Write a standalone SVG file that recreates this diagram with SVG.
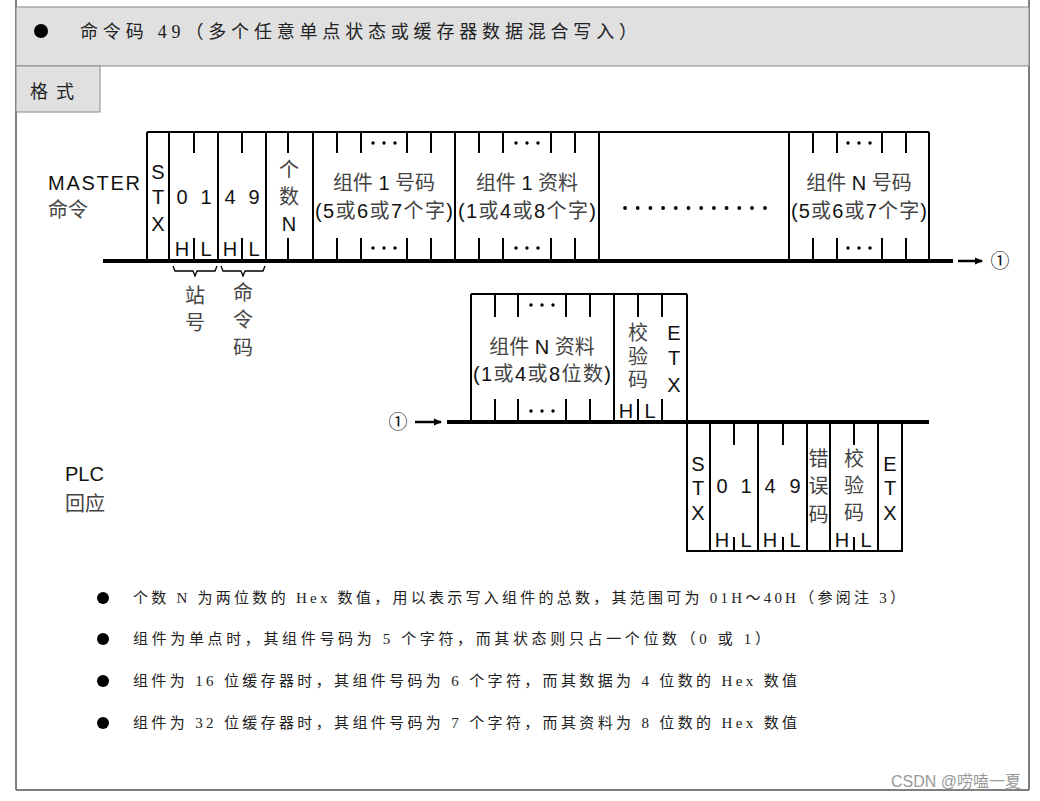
<svg xmlns="http://www.w3.org/2000/svg" width="1040" height="801" viewBox="0 0 1040 801">
<style>
.frame{stroke:#000;stroke-width:2;fill:none}
.thick{stroke:#000;stroke-width:4;fill:none}
.thin{stroke:#000;stroke-width:1.3;fill:none}
.lat{font-family:"Liberation Sans","Noto Sans CJK SC",sans-serif;font-size:20px;fill:#111;text-anchor:middle}
.cjk{font-family:"Liberation Sans","Noto Sans CJK SC",sans-serif;font-size:20px;fill:#444;text-anchor:middle}
.lbl{font-family:"Liberation Sans","Noto Sans CJK SC",sans-serif;font-size:20px;fill:#111}
.note{font-family:"Liberation Serif","Noto Sans CJK SC",serif;font-size:15px;fill:#222}
.circ{font-family:"Noto Sans CJK SC",sans-serif;font-size:19px;fill:#111;text-anchor:middle}
.dot{fill:#000}
</style>
<defs>
<marker id="ah" markerWidth="8" markerHeight="8" refX="7" refY="4" orient="auto" markerUnits="userSpaceOnUse">
<path d="M0,0.5 L8,4 L0,7.5 Z" fill="#000"/>
</marker>
</defs>
<rect width="1040" height="801" fill="#fff"/>
<g id="page-frame">
<line x1="16" y1="0" x2="16" y2="790" stroke="#555" stroke-width="1.5"/>
<line x1="1029" y1="0" x2="1029" y2="790" stroke="#555" stroke-width="1.5"/>
<line x1="16" y1="790" x2="1029" y2="790" stroke="#555" stroke-width="1.5"/>
<rect x="16" y="7" width="1013" height="59" fill="#e0e0e0" stroke="#888" stroke-width="1"/>
<circle cx="41" cy="31" r="7" fill="#000"/>
<text x="80" y="38" class="note" style="font-size:18px" textLength="557" lengthAdjust="spacing">命令码 49（多个任意单点状态或缓存器数据混合写入）</text>
<rect x="16" y="66" width="84" height="46" fill="#e0e0e0" stroke="#888" stroke-width="1"/>
<text x="30" y="98" class="note" style="font-size:18px" textLength="44" lengthAdjust="spacing">格式</text>
</g>
<g id="master-label">
<text x="48" y="190" class="lbl" textLength="92" lengthAdjust="spacing">MASTER</text>
<text x="48" y="217" class="lbl" style="fill:#444">命令</text>
</g>
<g id="plc-label">
<text x="65" y="481" class="lbl">PLC</text>
<text x="65" y="511" class="lbl" style="fill:#444">回应</text>
</g>
<g id="master-frame">
<line x1="147" y1="132" x2="929" y2="132" class="frame"/>
<path class="frame" d="M147,132V261 M169,132V261 M218,132V261 M266,132V261 M313,132V261 M455,132V261 M599,132V261 M789,132V261 M929,132V261"/>
<path class="frame" d="M194,132V153 M242,132V153 M288,132V153 M337,132V153 M361,132V153 M407,132V153 M431,132V153 M479,132V153 M503,132V153 M551,132V153 M575,132V153 M813,132V153 M837,132V153 M882,132V153 M906,132V153"/>
<path class="frame" d="M194,238V261 M242,238V261 M288,238V261 M337,238V261 M361,238V261 M407,238V261 M431,238V261 M479,238V261 M503,238V261 M551,238V261 M575,238V261 M813,238V261 M837,238V261 M882,238V261 M906,238V261"/>
<g class="dot">
<circle cx="373" cy="143" r="1.7"/><circle cx="384" cy="143" r="1.7"/><circle cx="395" cy="143" r="1.7"/>
<circle cx="373" cy="248" r="1.7"/><circle cx="384" cy="248" r="1.7"/><circle cx="395" cy="248" r="1.7"/>
<circle cx="516" cy="143" r="1.7"/><circle cx="527" cy="143" r="1.7"/><circle cx="538" cy="143" r="1.7"/>
<circle cx="516" cy="248" r="1.7"/><circle cx="527" cy="248" r="1.7"/><circle cx="538" cy="248" r="1.7"/>
<circle cx="848" cy="143" r="1.7"/><circle cx="859" cy="143" r="1.7"/><circle cx="870" cy="143" r="1.7"/>
<circle cx="848" cy="248" r="1.7"/><circle cx="859" cy="248" r="1.7"/><circle cx="870" cy="248" r="1.7"/>
<circle cx="625" cy="208" r="1.9"/><circle cx="637.7" cy="208" r="1.9"/><circle cx="650.4" cy="208" r="1.9"/><circle cx="663.1" cy="208" r="1.9"/><circle cx="675.8" cy="208" r="1.9"/><circle cx="688.5" cy="208" r="1.9"/><circle cx="701.2" cy="208" r="1.9"/><circle cx="713.9" cy="208" r="1.9"/><circle cx="726.6" cy="208" r="1.9"/><circle cx="739.3" cy="208" r="1.9"/><circle cx="752" cy="208" r="1.9"/><circle cx="765" cy="208" r="1.9"/>
</g>
<text class="lat" x="158" y="179">S</text>
<text class="lat" x="158" y="204">T</text>
<text class="lat" x="158" y="231">X</text>
<text class="lat" x="182" y="204">0</text>
<text class="lat" x="206" y="204">1</text>
<text class="lat" x="230" y="204">4</text>
<text class="lat" x="254" y="204">9</text>
<text class="lat" x="182" y="256">H</text>
<text class="lat" x="206" y="256">L</text>
<text class="lat" x="230" y="256">H</text>
<text class="lat" x="254" y="256">L</text>
<text class="cjk" x="289" y="177">个</text>
<text class="cjk" x="289" y="204">数</text>
<text class="lat" x="289" y="231">N</text>
<text class="cjk" x="384" y="190">组件 <tspan fill="#111">1</tspan> 号码</text>
<text class="cjk" x="384" y="218" textLength="138" lengthAdjust="spacing"><tspan fill="#111">(5</tspan>或<tspan fill="#111">6</tspan>或<tspan fill="#111">7</tspan>个字<tspan fill="#111">)</tspan></text>
<text class="cjk" x="527" y="190">组件 <tspan fill="#111">1</tspan> 资料</text>
<text class="cjk" x="527" y="218" textLength="138" lengthAdjust="spacing"><tspan fill="#111">(1</tspan>或<tspan fill="#111">4</tspan>或<tspan fill="#111">8</tspan>个字<tspan fill="#111">)</tspan></text>
<text class="cjk" x="859" y="190">组件 <tspan fill="#111">N</tspan> 号码</text>
<text class="cjk" x="859" y="218" textLength="136" lengthAdjust="spacing"><tspan fill="#111">(5</tspan>或<tspan fill="#111">6</tspan>或<tspan fill="#111">7</tspan>个字<tspan fill="#111">)</tspan></text>
</g>
<g id="station-brace">
<path class="thin" d="M173,266 L175,271 L193,271 L195,276 L197,271 L215,271 L217,266"/>
<text class="cjk" x="195" y="303">站</text>
<text class="cjk" x="195" y="330">号</text>
</g>
<g id="command-brace">
<path class="thin" d="M221,266 L223,271 L241,271 L243,276 L245,271 L263,271 L265,266"/>
<text class="cjk" x="243" y="300">命</text>
<text class="cjk" x="243" y="327">令</text>
<text class="cjk" x="243" y="355">码</text>
</g>
<g id="middle-frame">
<line x1="471" y1="294" x2="687" y2="294" class="frame"/>
<path class="frame" d="M471,294V422 M614,294V422 M687,294V422"/>
<path class="frame" d="M495,294V317 M518,294V317 M566,294V317 M590,294V317 M638,294V317 M662,294V317 M495,399V422 M518,399V422 M566,399V422 M590,399V422 M638,399V422 M662,399V422"/>
<g class="dot">
<circle cx="531" cy="305" r="1.7"/><circle cx="542" cy="305" r="1.7"/><circle cx="553" cy="305" r="1.7"/>
<circle cx="531" cy="411" r="1.7"/><circle cx="542" cy="411" r="1.7"/><circle cx="553" cy="411" r="1.7"/>
</g>
<text class="cjk" x="542" y="354">组件 <tspan fill="#111">N</tspan> 资料</text>
<text class="cjk" x="542" y="381" textLength="138" lengthAdjust="spacing"><tspan fill="#111">(1</tspan>或<tspan fill="#111">4</tspan>或<tspan fill="#111">8</tspan>位数<tspan fill="#111">)</tspan></text>
<text class="cjk" x="638" y="340">校</text>
<text class="cjk" x="638" y="364">验</text>
<text class="cjk" x="638" y="387">码</text>
<text class="lat" x="674" y="340">E</text>
<text class="lat" x="674" y="365">T</text>
<text class="lat" x="674" y="392">X</text>
<text class="lat" x="626" y="418">H</text>
<text class="lat" x="650" y="418">L</text>
</g>
<g id="plc-frame">
<line x1="687" y1="551" x2="902" y2="551" class="frame"/>
<path class="frame" d="M687,422V552 M710,422V552 M758,422V552 M807,422V552 M830,422V552 M878,422V552 M902,422V552"/>
<path class="frame" d="M734,422V445 M783,422V445 M854,422V445 M734,537V551 M783,537V551 M854,537V551"/>
<text class="lat" x="698" y="471">S</text>
<text class="lat" x="698" y="495">T</text>
<text class="lat" x="698" y="520">X</text>
<text class="lat" x="722" y="493">0</text>
<text class="lat" x="746" y="493">1</text>
<text class="lat" x="770" y="493">4</text>
<text class="lat" x="795" y="493">9</text>
<text class="cjk" x="818.5" y="466">错</text>
<text class="cjk" x="818.5" y="493">误</text>
<text class="cjk" x="818.5" y="522">码</text>
<text class="cjk" x="854" y="466">校</text>
<text class="cjk" x="854" y="493">验</text>
<text class="cjk" x="854" y="520">码</text>
<text class="lat" x="890" y="471">E</text>
<text class="lat" x="890" y="495">T</text>
<text class="lat" x="890" y="520">X</text>
<text class="lat" x="722" y="547">H</text>
<text class="lat" x="746" y="547">L</text>
<text class="lat" x="770" y="547">H</text>
<text class="lat" x="795" y="547">L</text>
<text class="lat" x="842" y="547">H</text>
<text class="lat" x="866" y="547">L</text>
</g>
<g id="connectors">
<line x1="103" y1="261" x2="953" y2="261" class="thick"/>
<line x1="958" y1="261" x2="982" y2="261" stroke="#000" stroke-width="2.5" marker-end="url(#ah)"/>
<text x="1000" y="268" class="circ">①</text>
<text x="398" y="429" class="circ">①</text>
<line x1="415" y1="422" x2="441" y2="422" stroke="#000" stroke-width="2.5" marker-end="url(#ah)"/>
<line x1="447" y1="422" x2="929" y2="422" class="thick"/>
</g>
<g id="notes">
<circle cx="103" cy="598" r="6" fill="#000"/>
<circle cx="103" cy="639" r="6" fill="#000"/>
<circle cx="103" cy="681" r="6" fill="#000"/>
<circle cx="103" cy="723" r="6" fill="#000"/>
<text class="note" x="133" y="603" textLength="772" lengthAdjust="spacing">个数 N 为两位数的 Hex 数值，用以表示写入组件的总数，其范围可为 01H～40H（参阅注 3）</text>
<text class="note" x="133" y="644" textLength="637" lengthAdjust="spacing">组件为单点时，其组件号码为 5 个字符，而其状态则只占一个位数（0 或 1）</text>
<text class="note" x="133" y="686" textLength="664" lengthAdjust="spacing">组件为 16 位缓存器时，其组件号码为 6 个字符，而其数据为 4 位数的 Hex 数值</text>
<text class="note" x="133" y="728" textLength="664" lengthAdjust="spacing">组件为 32 位缓存器时，其组件号码为 7 个字符，而其资料为 8 位数的 Hex 数值</text>
</g>
<text x="1021" y="787" text-anchor="end" style="font-family:'Liberation Sans','Noto Sans CJK SC',sans-serif;font-size:16px;fill:#999">CSDN @唠嗑一夏</text>
</svg>
